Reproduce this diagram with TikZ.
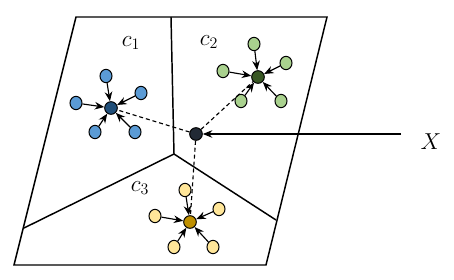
\documentclass[tikz,border=0pt]{standalone}
\usetikzlibrary{arrows.meta,shapes.geometric}
\definecolor{blueLight}{RGB}{91,155,213}
\definecolor{blueDark}{RGB}{31,78,121}
\definecolor{greenLight}{RGB}{169,209,142}
\definecolor{greenDark}{RGB}{56,87,35}
\definecolor{yellowLight}{RGB}{255,230,153}
\definecolor{goldDark}{RGB}{191,144,0}
\definecolor{queryDark}{RGB}{34,42,53}

\begin{document}
\begin{tikzpicture}[
    x=0.75pt, y=-0.75pt,
    every node/.style={font=\fontsize{16.5}{19}\selectfont},
    region/.style={line width=1.1pt, line join=miter},
    member/.style={ellipse, draw=black, line width=0.75pt, minimum width=9pt, minimum height=10pt, inner sep=0pt},
    centroid/.style={circle, draw=black, line width=0.75pt, minimum size=9.5pt, inner sep=0pt},
    arrow/.style={-{Stealth[length=2.5mm, width=2mm]}, line width=0.85pt},
    link/.style={dash pattern=on 3pt off 2.2pt, line width=0.85pt},
]
\useasboundingbox (0,0) rectangle (454,279);

% Regions
\coordinate (mid) at (174,154);
\draw[region] (76,17) -- (327,17) -- (266,265) -- (14,265) -- cycle;
\draw[region] (171,17) -- (mid);
\draw[region] (24,228) -- (mid) -- (276,220);

% Cluster labels
\node (lab1) at (131,43) {$c_1$};
\node (lab2) at (209,42) {$c_2$};
\node (lab3) at (140,188) {$c_3$};

% Cluster 1
\node[centroid, fill=blueDark] (k1) at (111,108) {};
\node[member, fill=blueLight] (p1a) at (106,76) {};
\node[member, fill=blueLight] (p1b) at (141,93) {};
\node[member, fill=blueLight] (p1c) at (76,103) {};
\node[member, fill=blueLight] (p1d) at (95,132) {};
\node[member, fill=blueLight] (p1e) at (135,132) {};

% Cluster 2
\node[centroid, fill=greenDark] (k2) at (258,77) {};
\node[member, fill=greenLight] (p2a) at (254,44) {};
\node[member, fill=greenLight] (p2b) at (286,63) {};
\node[member, fill=greenLight] (p2c) at (223,71) {};
\node[member, fill=greenLight] (p2d) at (241,101) {};
\node[member, fill=greenLight] (p2e) at (281,101) {};

% Cluster 3
\node[centroid, fill=goldDark] (k3) at (190,222) {};
\node[member, fill=yellowLight] (p3a) at (185,190) {};
\node[member, fill=yellowLight] (p3b) at (219,209) {};
\node[member, fill=yellowLight] (p3c) at (155,216) {};
\node[member, fill=yellowLight] (p3d) at (174,247) {};
\node[member, fill=yellowLight] (p3e) at (213,247) {};

% Query point
\node[centroid, fill=queryDark] (x) at (196,134) {};
\node (xlabel) at (431,142) {$X$};
\coordinate (xtail) at (401,134);

% Arrows to centroids
\draw[arrow] (p1a) -- (k1);
\draw[arrow] (p1b) -- (k1);
\draw[arrow] (p1c) -- (k1);
\draw[arrow] (p1d) -- (k1);
\draw[arrow] (p1e) -- (k1);
\draw[arrow] (p2a) -- (k2);
\draw[arrow] (p2b) -- (k2);
\draw[arrow] (p2c) -- (k2);
\draw[arrow] (p2d) -- (k2);
\draw[arrow] (p2e) -- (k2);
\draw[arrow] (p3a) -- (k3);
\draw[arrow] (p3b) -- (k3);
\draw[arrow] (p3c) -- (k3);
\draw[arrow] (p3d) -- (k3);
\draw[arrow] (p3e) -- (k3);

% Distances
\draw[link] (x) -- (k1);
\draw[link] (x) -- (k2);
\draw[link] (x) -- (k3);
\draw[arrow] (xtail) -- (x);

\end{tikzpicture}
\end{document}
